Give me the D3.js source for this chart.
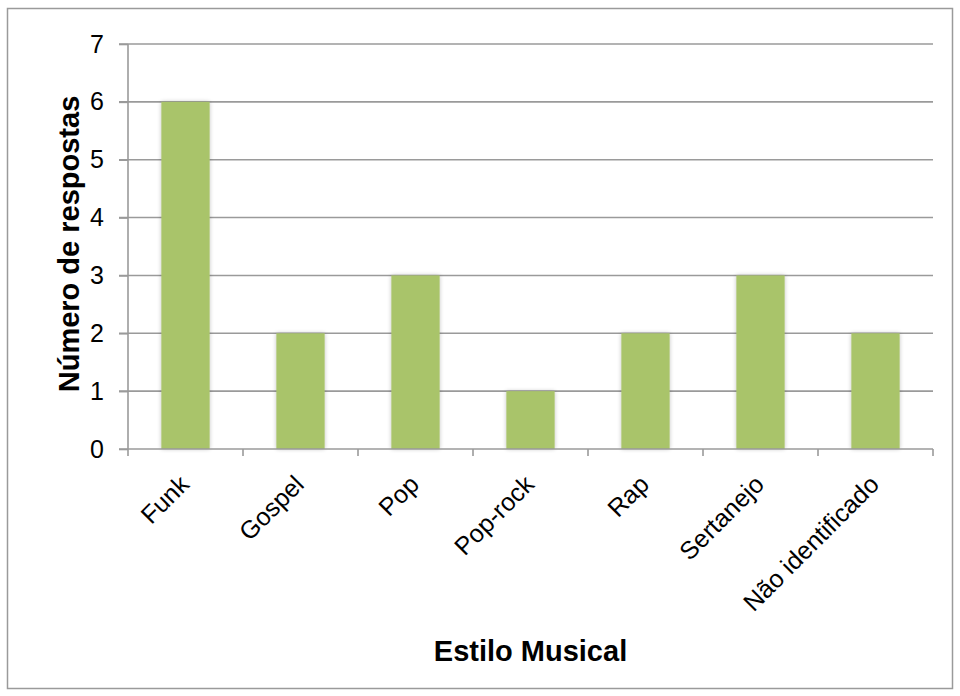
<!DOCTYPE html>
<html>
<head>
<meta charset="utf-8">
<script src="https://cdn.jsdelivr.net/npm/d3@7"></script>
<style>
  html, body { margin: 0; padding: 0; background: #fff; }
  svg { display: block; font-family: "Liberation Sans", Arial, sans-serif; }
</style>
</head>
<body>
<svg id="chart" width="960" height="696"></svg>
<script>
// Estilos musicais e número de respostas
const categories = ["Funk", "Gospel", "Pop", "Pop-rock", "Rap", "Sertanejo", "Não identificado"];
const values = [6, 2, 3, 1, 2, 3, 2];
const yTicks = [0, 1, 2, 3, 4, 5, 6, 7];

const svg = d3.select("#chart");
const plot = { left: 128, right: 933, top: 44, bottom: 449 };
const font = "Liberation Sans, Arial, sans-serif";

// Moldura externa
svg.append("rect")
  .attr("x", 7.5).attr("y", 8.5)
  .attr("width", 945).attr("height", 680)
  .attr("fill", "#fff").attr("stroke", "#9a9a9a").attr("stroke-width", 1.5);

const defs = svg.append("defs");
const shadow = defs.append("filter").attr("id", "barShadow")
  .attr("x", "-30%").attr("y", "-10%").attr("width", "160%").attr("height", "120%");
shadow.append("feGaussianBlur").attr("in", "SourceAlpha").attr("stdDeviation", 2).attr("result", "b");
shadow.append("feComponentTransfer").attr("in", "b").attr("result", "s")
  .append("feFuncA").attr("type", "linear").attr("slope", 0.25);
const merge = shadow.append("feMerge");
merge.append("feMergeNode").attr("in", "s");
merge.append("feMergeNode").attr("in", "SourceGraphic");

const x = d3.scaleBand().domain(categories).range([plot.left, plot.right]).paddingInner(0.58).paddingOuter(0.29);
const xOuter = d3.scaleBand().domain(categories).range([plot.left, plot.right]);
const y = d3.scaleLinear().domain([0, 7]).range([plot.bottom, plot.top]);

// Linhas de grade
svg.append("g").selectAll("line").data(yTicks.filter(d => d > 0)).join("line")
  .attr("x1", plot.left - 9).attr("x2", plot.right)
  .attr("y1", d => y(d)).attr("y2", d => y(d))
  .attr("stroke", "#9a9a9a").attr("stroke-width", 1.6);

// Barras
svg.append("g").selectAll("rect").data(values).join("rect")
  .attr("x", (d, i) => x(categories[i]))
  .attr("y", d => y(d))
  .attr("width", x.bandwidth())
  .attr("height", d => y(0) - y(d))
  .attr("fill", "#a9c46b")
  .attr("filter", "url(#barShadow)");

// Eixo Y
const yAxis = svg.append("g").attr("transform", `translate(${plot.left},0)`)
  .call(d3.axisLeft(y).tickValues(yTicks).tickSize(9).tickPadding(15).tickFormat(d3.format("d")));
yAxis.select(".domain").attr("stroke", "#9a9a9a").attr("stroke-width", 1.6).attr("d", `M0,${plot.top}V${plot.bottom}`);
yAxis.selectAll(".tick line").attr("stroke", "#9a9a9a").attr("stroke-width", 1.6);
yAxis.selectAll(".tick text")
  .style("font-size", "25px").style("font-family", font).attr("fill", "#000");

// Eixo X
const xTickPos = categories.map(c => xOuter(c)).concat([plot.right]);
svg.append("line")
  .attr("x1", plot.left - 9).attr("x2", plot.right)
  .attr("y1", y(0)).attr("y2", y(0))
  .attr("stroke", "#9a9a9a").attr("stroke-width", 1.6);
svg.append("g").selectAll("line").data(xTickPos).join("line")
  .attr("x1", d => d).attr("x2", d => d)
  .attr("y1", y(0)).attr("y2", y(0) + 7)
  .attr("stroke", "#9a9a9a").attr("stroke-width", 1.6);

svg.append("g").selectAll("text").data(categories).join("text")
  .attr("transform", c => `translate(${xOuter(c) + xOuter.bandwidth() / 2 + 5},${y(0) + 37}) rotate(-45)`)
  .attr("text-anchor", "end")
  .style("font-size", "25px").style("font-family", font)
  .attr("fill", "#000")
  .text(c => c);

// Títulos dos eixos
svg.append("text")
  .attr("transform", `translate(79,244) rotate(-90)`)
  .attr("text-anchor", "middle")
  .style("font-size", "29px").style("font-family", font).attr("font-weight", "bold")
  .text("Número de respostas");

svg.append("text")
  .attr("x", (plot.left + plot.right) / 2).attr("y", 661)
  .attr("text-anchor", "middle")
  .style("font-size", "29px").style("font-family", font).attr("font-weight", "bold")
  .text("Estilo Musical");
</script>
</body>
</html>
